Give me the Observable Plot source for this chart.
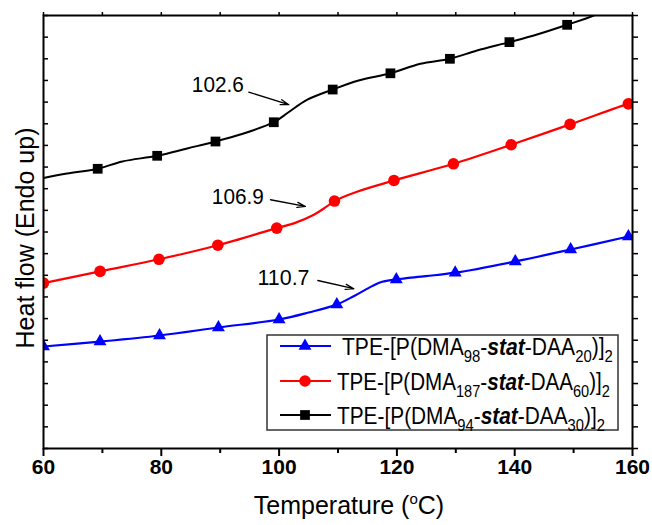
<!DOCTYPE html>
<html><head><meta charset="utf-8">
<script src="https://cdn.jsdelivr.net/npm/d3@7"></script>
<script src="https://cdn.jsdelivr.net/npm/@observablehq/plot@0.6"></script>
<style>
body{margin:0;background:#fff;}
#chart{width:652px;height:525px;}
svg{font-family:Arial,"Liberation Sans",sans-serif;}
</style></head><body><div id="chart"></div>
<script>
// ---- data (temperature °C, heat flow in arbitrary units) ----
const blackT = [60, 64, 69.2, 73.4, 79.3, 84.4, 89.2, 93.4, 99.1, 101.6, 104.8, 109.1, 113.5, 118.9, 124.0, 129.0, 133.6, 139.1, 143.8, 148.9, 153.4, 158];
const blackV = [12.49, 12.70, 12.92, 13.26, 13.52, 13.86, 14.18, 14.50, 15.07, 15.53, 16.11, 16.58, 17.0, 17.33, 17.77, 18.0, 18.38, 18.77, 19.12, 19.57, 20.0, 20.6];
const blackM = [0, 0, 1, 0, 1, 0, 1, 0, 1, 0, 0, 1, 0, 1, 0, 1, 0, 1, 0, 1, 0, 0];

const redT = [60, 69.6, 79.6, 89.6, 99.6, 102.5, 105.9, 108.1, 109.4, 113.1, 119.5, 129.6, 139.4, 149.4, 159.3, 160];
const redV = [7.64, 8.18, 8.74, 9.39, 10.18, 10.40, 10.80, 11.18, 11.43, 11.85, 12.38, 13.15, 14.03, 14.97, 15.92, 15.95];
const redM = [1, 1, 1, 1, 1, 0, 0, 0, 1, 0, 1, 1, 1, 1, 1, 0];

const blueT = [60, 69.6, 79.7, 89.7, 100, 105, 109.8, 112.9, 115.8, 117.5, 119.9, 124.9, 129.9, 140.1, 149.5, 159.3, 160];
const blueV = [4.71, 4.94, 5.22, 5.59, 5.96, 6.28, 6.65, 7.07, 7.50, 7.70, 7.81, 7.96, 8.12, 8.64, 9.19, 9.79, 9.84];
const blueM = [1, 1, 1, 1, 1, 0, 1, 0, 0, 0, 1, 0, 1, 1, 1, 1, 0];

const xMajorTicks = [60, 80, 100, 120, 140, 160];
const xMinorTicks = [70, 90, 110, 130, 150];
const yTicks = d3.range(0, 21);

const annLabels = ["102.6", "106.9", "110.7"];
const annX = [89.6, 93.0, 100.75];
const annY = [16.77, 11.64, 7.90];
const arrX1 = [94.85, 98.54, 106.57];
const arrY1 = [16.46, 11.49, 7.76];
const arrX2 = [101.65, 104.48, 112.68];
const arrY2 = [15.88, 11.18, 7.38];

const legendDMA = ["98", "187", "94"];
const legendDAA = ["20", "60", "30"];
const legendColors = ["#0000ff", "#ff0000", "#000000"];
const legendSymbols = ["triangle", "circle", "square"];

const xTitle = ["Temperature (", "o", "C)"];
const yTitle = "Heat flow (Endo up)";

// ---- build tables ----
const mk = (T, V, M) => T.map((t, i) => ({t, v: V[i], m: M[i]}));
const black = mk(blackT, blackV, blackM);
const red = mk(redT, redV, redM);
const blue = mk(blueT, blueV, blueM);
const ann = annLabels.map((l, i) => ({l, x: annX[i], y: annY[i], x1: arrX1[i], y1: arrY1[i], x2: arrX2[i], y2: arrY2[i]}));

const W = 652, H = 525, mL = 43, mR = 20, mT = 15, mB = 77;
const innerW = W - mL - mR;
const curve = "catmull-rom";

const chart = Plot.plot({
  width: W, height: H,
  marginLeft: mL, marginRight: mR, marginTop: mT, marginBottom: mB,
  x: {domain: [60, 160]},
  y: {domain: [0, 20]},
  style: {fontFamily: "Arial, 'Liberation Sans', sans-serif", color: "#000", background: "#fff", overflow: "visible"},
  marks: [
    Plot.axisX(xMajorTicks, {tickSize: 8, tickPadding: 3, fontSize: 21, fontWeight: "bold", label: null, strokeWidth: 2}),
    Plot.axisX(xMinorTicks, {tickSize: 5, tickFormat: () => "", label: null, strokeWidth: 2}),
    Plot.axisX(xMajorTicks.concat(xMinorTicks), {anchor: "top", tickSize: 4, tickFormat: () => "", label: null, strokeWidth: 1.5}),
    Plot.axisY(yTicks, {anchor: "right", tickSize: 5, tickFormat: () => "", label: null, strokeWidth: 1.5}),
    Plot.tickY(yTicks, {y: d => d, insetRight: innerW - 5, stroke: "#000", strokeWidth: 1.5}),
    Plot.line(black, {x: "t", y: "v", stroke: "#000", strokeWidth: 2, curve, clip: true}),
    Plot.line(red, {x: "t", y: "v", stroke: "#ff0000", strokeWidth: 2.2, curve, clip: true}),
    Plot.line(blue, {x: "t", y: "v", stroke: "#0000ff", strokeWidth: 2.2, curve, clip: true}),
    Plot.dot(black.filter(d => d.m), {x: "t", y: "v", symbol: "square", fill: "#000", r: 5.5, clip: true}),
    Plot.dot(red.filter(d => d.m), {x: "t", y: "v", symbol: "circle", fill: "#ff0000", r: 5.8, clip: true}),
    Plot.dot(blue.filter(d => d.m), {x: "t", y: "v", symbol: "triangle", fill: "#0000ff", r: 4.8, clip: true}),
    Plot.text(ann, {x: "x", y: "y", text: "l", fontSize: 22, fill: "#000"}),
    Plot.arrow(ann, {x1: "x1", y1: "y1", x2: "x2", y2: "y2", stroke: "#000", strokeWidth: 1.3, headLength: 10, headAngle: 35}),
    Plot.frame({stroke: "#000", strokeWidth: 2})
  ]
});
document.getElementById("chart").appendChild(chart);

const svg = d3.select(chart);

// annotation width fit
svg.selectAll("text").filter(function(){ return annLabels.includes(this.textContent); })
  .attr("textLength", 52).attr("lengthAdjust", "spacingAndGlyphs");

// axis titles
svg.append("text")
  .attr("transform", "translate(33.5,238) rotate(-90)")
  .attr("text-anchor", "middle").attr("font-size", 25).attr("fill", "#000")
  .text(yTitle);
const xt = svg.append("text").attr("x", 349).attr("y", 514).attr("text-anchor", "middle").attr("font-size", 25).attr("fill", "#000");
xt.append("tspan").text(xTitle[0]);
xt.append("tspan").attr("font-size", 15).attr("dy", -10).text(xTitle[1]);
xt.append("tspan").attr("dy", 10).text(xTitle[2]);

// legend
const lg = svg.append("g");
lg.append("rect").attr("x", 267).attr("y", 335).attr("width", 351).attr("height", 95)
  .attr("fill", "#fff").attr("stroke", "#333").attr("stroke-width", 1.5);
const rowY = [346, 381, 415];
const textX0 = [342, 337, 337];
const textX1 = [613, 610, 605];
const symMap = {triangle: d3.symbolTriangle, circle: d3.symbolCircle, square: d3.symbolSquare};
const symR = {triangle: 4.8, circle: 5.8, square: 5.5};
legendDMA.forEach((n1, i) => {
  const cy = rowY[i];
  lg.append("line").attr("x1", 280).attr("x2", 331).attr("y1", cy).attr("y2", cy)
    .attr("stroke", legendColors[i]).attr("stroke-width", 2);
  const r = symR[legendSymbols[i]];
  lg.append("path").attr("d", d3.symbol(symMap[legendSymbols[i]], r * r * Math.PI)())
    .attr("transform", `translate(305,${cy})`).attr("fill", legendColors[i]);
  const g = lg.append("g");
  const t = g.append("text").attr("font-size", 24).attr("fill", "#000").attr("text-anchor", "start");
  t.append("tspan").text("TPE-[P(DMA");
  t.append("tspan").attr("font-size", 17).attr("dy", 7).text(n1);
  t.append("tspan").attr("dy", -7).text("-");
  t.append("tspan").attr("font-weight", "bold").attr("font-style", "italic").text("stat");
  t.append("tspan").text("-DAA");
  t.append("tspan").attr("font-size", 17).attr("dy", 7).text(legendDAA[i]);
  t.append("tspan").attr("dy", -7).text(")]");
  t.append("tspan").attr("font-size", 17).attr("dy", 7).text("2");
  const len = t.node().getComputedTextLength();
  const s = (textX1[i] - textX0[i]) / len;
  g.attr("transform", `translate(${textX0[i]},${cy + 8.5}) scale(${s},1)`);
});
</script></body></html>
